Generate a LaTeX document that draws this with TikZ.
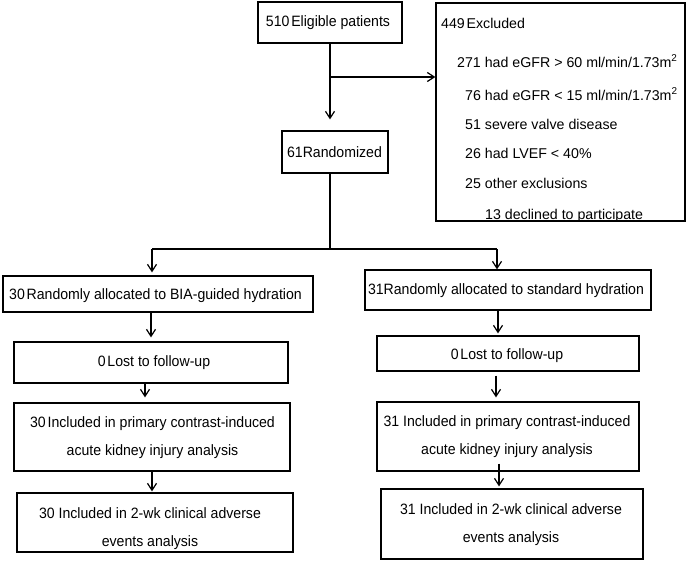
\documentclass[tikz,border=0pt]{standalone}
\usepackage{fontspec}
\setmainfont{Liberation Sans}
\newfontfamily\boxfont[FakeStretch=0.94]{Liberation Sans}
\newcommand{\ns}{\hspace{0.12em}}
\usetikzlibrary{arrows.meta}
\begin{document}
\begin{tikzpicture}[x=1pt,y=-1pt,
  box/.style={draw, line width=1.2pt, inner sep=0pt},
  txt/.style={inner sep=0pt, font=\boxfont\fontsize{15}{28}\selectfont, align=center},
  lbl/.style={inner sep=0pt, font=\fontsize{14.2}{16}\selectfont, anchor=base west},
  conn/.style={line width=1.2pt},
  arr/.style={conn, -{Straight Barb[length=7pt,width=9pt,line width=1.2pt]}}]
\useasboundingbox[fill=white] (0,0) rectangle (688,560);

% top
\node[box, minimum width=144pt, minimum height=41pt] (elig) at (330,22.5) {};
\node[txt] (eligt) at (328,23) {510\ns Eligible patients};

\node[box, minimum width=249pt, minimum height=218pt] (excl) at (560.5,112) {};
\begin{scope}
\clip ([shift={(0.6pt,0.6pt)}]excl.south west) rectangle ([shift={(-0.6pt,-0.6pt)}]excl.north east);
\node[lbl] (ex0) at (441,28) {449\ns Excluded};
\node[lbl] (ex1) at (457,67) {271 had eGFR > 60 ml/min/1.73m\textsuperscript{2}};
\node[lbl] (ex2) at (465,100) {76 had eGFR < 15 ml/min/1.73m\textsuperscript{2}};
\node[lbl] (ex3) at (465,129) {51 severe valve disease};
\node[lbl] (ex4) at (465,158) {26 had LVEF < 40\%};
\node[lbl] (ex5) at (465,188) {25 other exclusions};
\node[lbl] (ex6) at (485,219.5) {13 declined to participate};
\end{scope}

\node[box, minimum width=106pt, minimum height=42pt] (rand) at (335,152) {};
\node[txt] (randt) at (334.5,152) {61Randomized};

% left arm
\node[box, minimum width=310pt, minimum height=36pt] (a1) at (158,294) {};
\node[txt] (a1t) at (155.5,296) {30\ns Randomly allocated to BIA-guided hydration};
\node[box, minimum width=274pt, minimum height=41pt] (a2) at (151,362.5) {};
\node[txt] (a2t) at (154,363) {0\ns Lost to follow-up};
\node[box, minimum width=276pt, minimum height=68pt] (a3) at (152,437) {};
\node[txt] (a3t) at (152.5,438) {30\ns Included in primary contrast-induced\\acute kidney injury analysis};
\node[box, minimum width=276pt, minimum height=59pt] (a4) at (155,522.5) {};
\begin{scope}
\clip ([shift={(0.6pt,0.6pt)}]a4.south west) rectangle ([shift={(-0.6pt,-0.6pt)}]a4.north east);
\node[txt] (a4t) at (150,529) {30 Included in 2-wk clinical adverse\\events analysis};
\end{scope}

% right arm
\node[box, minimum width=286pt, minimum height=40pt] (b1) at (508,290) {};
\node[txt] (b1t) at (506,291) {31Randomly allocated to standard hydration};
\node[box, minimum width=262pt, minimum height=35pt] (b2) at (508,353.5) {};
\node[txt] (b2t) at (507,356) {0\ns Lost to follow-up};
\node[box, minimum width=262pt, minimum height=69pt] (b3) at (508,436.5) {};
\node[txt] (b3t) at (507,436.5) {31 Included in primary contrast-induced\\acute kidney injury analysis};
\node[box, minimum width=262pt, minimum height=70pt] (b4) at (512,524) {};
\node[txt] (b4t) at (511,525) {31 Included in 2-wk clinical adverse\\events analysis};

% connectors
\coordinate (j1) at (330,77);
\draw[arr, shorten >=11pt] (elig.south) -- (elig.south |- rand.north);
\draw[arr] (j1) -- (j1 -| excl.west);

\coordinate (j2) at (330,249);
\coordinate (la) at (152,249);
\coordinate (rb) at (497,249);
\draw[conn] (rand.south -| j2) -- (j2);
\draw[conn] (la) -- (rb);
\draw[arr, shorten >=3pt] (la) -- (la |- a1.north);
\draw[arr] (rb) -- (rb |- b1.north);

\draw[arr, shorten >=4pt] (a2.north |- a1.south) -- (a2.north);
\draw[arr, shorten >=5pt] ([xshift=-6pt]a2.south) -- ([xshift=-7pt]a3.north);
\draw[arr, shorten >=1pt] (a3.south) -- (a3.south |- a4.north);

\draw[arr, shorten >=2pt] ([xshift=-10pt]b1.south) -- ([xshift=-10pt]b1.south |- b2.north);
\draw[arr, shorten <=4pt, shorten >=4pt] ([xshift=-12pt]b2.south) -- ([xshift=-12pt]b2.south |- b3.north);
\draw[arr, shorten <=-8pt, shorten >=2pt] ([xshift=-9pt]b3.south) -- ([xshift=-9pt]b3.south |- b4.north);
\end{tikzpicture}
\end{document}
